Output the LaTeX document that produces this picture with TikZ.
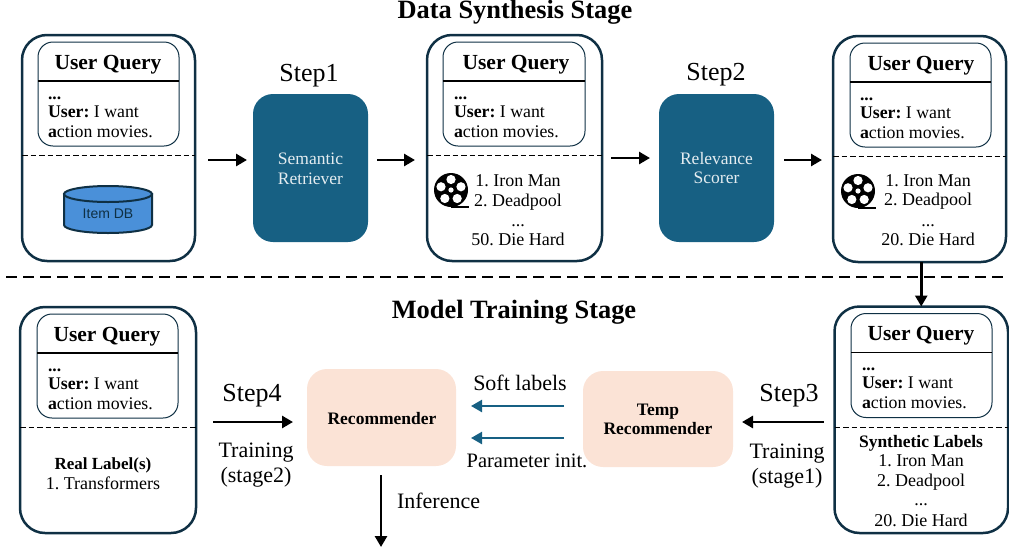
\documentclass[tikz,border=0pt]{standalone}
\usepackage{fontspec}
\setmainfont{Liberation Serif}
\setsansfont{Liberation Sans}
\usetikzlibrary{arrows.meta,calc}
\definecolor{navy}{HTML}{0F3044}
\definecolor{teal}{HTML}{176083}
\definecolor{peach}{HTML}{FBE3D6}
\definecolor{dbblue}{HTML}{4A90D9}
\newcommand{\fs}[1]{\fontsize{#1}{#1}\selectfont}
\frenchspacing
\tikzset{
  x=1pt,y=-1pt,
  txt/.style={inner sep=0pt,outer sep=0pt,anchor=base,text=black},
  txtl/.style={inner sep=0pt,outer sep=0pt,anchor=base west,text=black},
  outercard/.style={draw=navy,line width=2.5pt,rounded corners=25pt,fill=white,inner sep=0pt,outer sep=0pt},
  innercard/.style={draw=navy,line width=1pt,rounded corners=15pt,inner sep=0pt,outer sep=0pt},
  bluebox/.style={fill=teal,rounded corners=20pt,inner sep=0pt,outer sep=0pt},
  bluetext/.style={inner sep=0pt,outer sep=0pt,anchor=base,text=white!88!teal,font=\fs{17.5}},
  peachbox/.style={fill=peach,rounded corners=20pt,inner sep=0pt,outer sep=0pt},
  peachtext/.style={inner sep=0pt,outer sep=0pt,anchor=base,text=black,font=\bfseries\fs{17.5}},
  flowarrow/.style={-{Triangle[length=11pt,width=12pt]},line width=2.7pt,black},
  bluearrow/.style={-{Triangle[length=11pt,width=12pt]},line width=2.3pt,teal},
  sepline/.style={line width=2.8pt,dash pattern=on 11pt off 6pt},
  carddash/.style={line width=1pt,dash pattern=on 5.5pt off 3pt},
  steplabel/.style={txt,font=\fs{26}},
  edgelabel/.style={txt,font=\fs{22}},
  stagetitle/.style={txt,font=\bfseries\fs{26.4}},
  listtext/.style={txt,font=\fs{18}},
}
% id, L, T, R, B, dashY
\newcommand{\cardbox}[6]{%
  \node[outercard,minimum width={(#4-#2)*1pt},minimum height={(#5-#3)*1pt}] (#1) at ({(#2+#4)/2},{(#3+#5)/2}) {};
  \draw[carddash] (#1.west |- 0,#6) -- (#1.east |- 0,#6);
}
% id, L, T, R, textX, queryX
\newcommand{\querybox}[6]{%
  \node[innercard,minimum width={(#4-#2)*1pt},minimum height=104pt] (#1) at ({(#2+#4)/2},{#3+52}) {};
  \draw[line width=1.1pt] (#1.west |- 0,{#3+39}) -- (#1.east |- 0,{#3+39});
  \node[txt,font=\bfseries\fs{21.5}] (#1h) at (#6,{#3+27}) {User Query};
  \node[txtl,font=\bfseries\fs{17.5}] (#1d) at (#5,{#3+57}) {...};
  \node[txtl,font=\fs{17.8}] (#1u) at (#5,{#3+75}) {\textbf{User:} I want};
  \node[txtl,font=\fs{17.8}] (#1a) at (#5,{#3+95}) {\textbf{a}ction movies.};
}
% cx, cy
\newcommand{\reel}[2]{%
  \fill[black] (#1,#2) circle[radius=17];
  \draw[black,line width=1.2pt] (#1,{#2+17}) -- ({#1+18},{#2+17});
  \foreach \a in {90,162,234,306,18}{\fill[white] ({#1+10.5*cos(\a)},{#2-10.5*sin(\a)}) circle[radius=4.6];}
  \fill[white] (#1,#2) circle[radius=2.6];
}
\begin{document}
\begin{tikzpicture}
\useasboundingbox (0,0) rectangle (1009,552);

% Titles
\node[stagetitle] (t1) at (515,18.5) {Data Synthesis Stage};
\node[stagetitle] (t2) at (514,318) {Model Training Stage};

% Top row cards
\cardbox{c1}{22}{35}{195}{261}{155}
\querybox{q1}{38}{42}{179}{48}{108}
\cardbox{c2}{427}{35}{602}{261}{155}
\querybox{q2}{443}{42}{585}{454}{516}
\cardbox{c3}{833}{36}{1006}{262}{156}
\querybox{q3}{850}{43}{991}{860}{921}

% Item DB
\draw[navy,line width=2pt,fill=dbblue] (64,194) -- (64,225) arc[start angle=180,end angle=0,x radius=44,y radius=8] -- (152,194) -- cycle;
\draw[navy,line width=2pt,fill=dbblue] (108,194) ellipse[x radius=44,y radius=8];
\node[inner sep=0pt,anchor=base,text=navy,font=\sffamily\fs{14}] (db) at (108,218) {Item DB};

% Blue boxes
\node[bluebox,minimum width=115pt,minimum height=148pt] (sr) at (310.5,168) {};
\node[bluetext] (srt1) at (310.5,164) {Semantic};
\node[bluetext] (srt2) at (310.5,184) {Retriever};
\node[bluebox,minimum width=115pt,minimum height=148pt] (rs) at (716.5,168) {};
\node[bluetext] (rst1) at (716.5,164) {Relevance};
\node[bluetext] (rst2) at (716.5,183) {Scorer};
\node[steplabel] (s1) at (309,81) {Step1};
\node[steplabel] (s2) at (716,80) {Step2};

% Lists
\reel{451}{190}
\node[listtext] (l21) at (518,186) {1. Iron Man};
\node[listtext] (l22) at (518,206) {2. Deadpool};
\node[listtext] (l23) at (518,226) {...};
\node[listtext] (l24) at (518,245) {50. Die Hard};
\reel{858}{191}
\node[listtext] (l31) at (928,186) {1. Iron Man};
\node[listtext] (l32) at (928,205) {2. Deadpool};
\node[listtext] (l33) at (928,226) {...};
\node[listtext] (l34) at (928,245) {20. Die Hard};

% Top arrows
\coordinate (rowA) at (0,160);
\coordinate (rowB) at (0,158);
\draw[flowarrow,shorten <=13pt,shorten >=6pt] (c1.east |- rowA) -- (sr.west |- rowA);
\draw[flowarrow,shorten <=9pt,shorten >=12pt] (sr.east |- rowA) -- (c2.west |- rowA);
\draw[flowarrow,shorten <=9pt,shorten >=9pt] (c2.east |- rowB) -- (rs.west |- rowB);
\draw[flowarrow,shorten <=10pt,shorten >=11pt] (rs.east |- rowA) -- (c3.west |- rowA);

% Separator
\coordinate (sepL) at (6,277);
\coordinate (sepR) at (1006,277);
\draw[sepline] (sepL) -- (sepR);

% Bottom cards
\cardbox{c4}{20}{307}{196}{533}{427}
\querybox{q4}{37}{314}{178}{48}{107}
\node[txt,font=\bfseries\fs{17}] (rl) at (103,469) {Real Label(s)};
\node[listtext] (rl1) at (103,489) {1. Transformers};

\cardbox{c5}{834.5}{306.5}{1008}{533}{427}
\querybox{q5}{851}{313.5}{992}{862}{921}
\node[txt,font=\bfseries\fs{17.5}] (sl) at (921,447) {Synthetic Labels};
\node[listtext] (sl1) at (921,466) {1. Iron Man};
\node[listtext] (sl2) at (921,486) {2. Deadpool};
\node[listtext] (sl3) at (921,505) {...};
\node[listtext] (sl4) at (921,526) {20. Die Hard};

% Peach boxes
\node[peachbox,minimum width=149pt,minimum height=97pt] (rec) at (381.5,417.5) {};
\node[peachtext] (rect) at (382,424) {Recommender};
\node[peachbox,minimum width=150pt,minimum height=96pt] (tmp) at (658,419) {};
\node[peachtext] (tmp1) at (658,415) {Temp};
\node[peachtext] (tmp2) at (658,434) {Recommender};

% Bottom labels
\node[steplabel] (s4) at (252,401) {Step4};
\node[edgelabel] (tr2a) at (256,457) {Training};
\node[edgelabel] (tr2b) at (256,482) {(stage2)};
\node[steplabel] (s3) at (789,401) {Step3};
\node[edgelabel] (tr1a) at (787,458) {Training};
\node[edgelabel] (tr1b) at (787,483) {(stage1)};
\node[edgelabel] (soft) at (520,390) {Soft labels};
\node[txt,font=\fs{20.5}] (par) at (527,467) {Parameter init.};
\node[txt,anchor=base west,font=\fs{22}] (inf) at (397,508) {Inference};

% Bottom arrows
\coordinate (rowC) at (0,422);
\coordinate (rowD) at (0,406);
\coordinate (rowE) at (0,438);
\draw[flowarrow,shorten <=17pt,shorten >=14pt] (c4.east |- rowC) -- (rec.west |- rowC);
\draw[flowarrow,shorten <=11pt,shorten >=9pt] (c5.west |- rowC) -- (tmp.east |- rowC);
\draw[bluearrow,shorten <=19pt,shorten >=15pt] (tmp.west |- rowD) -- (rec.east |- rowD);
\draw[bluearrow,shorten <=19pt,shorten >=15pt] (tmp.west |- rowE) -- (rec.east |- rowE);
\coordinate (infEnd) at (381,547);
\draw[flowarrow,shorten <=9pt] (rec.south -| infEnd) -- (infEnd);
\draw[flowarrow] (c3.south -| c5.north) -- (c5.north);
\end{tikzpicture}
\end{document}
